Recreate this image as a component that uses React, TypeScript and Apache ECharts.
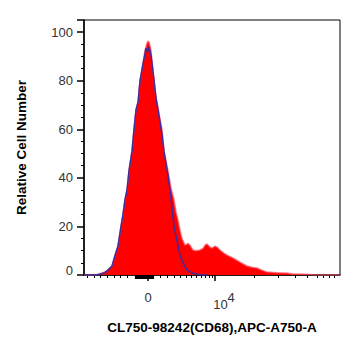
import React, { useEffect, useRef } from "react";
import * as echarts from "echarts";

// Display channel (logicle-scaled x, 0..256) and relative cell counts
const sampleChannel = [0, 10, 13, 17, 21, 25, 28, 31, 34, 37, 39, 41, 43, 45, 48, 49, 50, 52, 53, 54, 56, 59, 61, 63, 64, 65, 67, 69, 72, 74, 78, 80, 84, 87, 90, 92, 94, 96, 98, 101, 104, 106, 109, 112, 116, 119, 121, 123, 126, 128, 131, 133, 136, 140, 143, 149, 156, 163, 168, 173, 178, 183, 193, 203, 209, 216, 222, 229, 236, 256];
const sampleCount = [0, 0, 0.2, 0.7, 1.2, 2.5, 3.7, 8, 12, 20, 25, 31, 35, 43, 51, 55.5, 60, 68, 70, 71, 80, 87, 92.6, 95.5, 96.3, 96, 92.6, 84, 73, 69, 60, 51, 43, 36, 31, 26, 22.6, 18.5, 15, 12.3, 13, 12.3, 10.3, 10, 10.3, 11, 12.3, 12.8, 11.5, 11.1, 11.9, 11.5, 10.3, 9, 8.2, 7, 5.3, 3.7, 3.2, 2.9, 2, 1.2, 0.9, 0.8, 0.4, 0.4, 0.3, 0.1, 0, 0];

const controlChannel = [0, 12, 16, 20, 24, 28, 31, 34, 37, 39, 41, 43, 45, 48, 50, 52, 54, 56, 59, 61, 62, 63.5, 65, 67, 69, 72, 74, 78, 80, 84, 86, 88, 90, 93, 96, 99, 103, 109, 116, 124];
const controlCount = [0, 0, 0.3, 0.8, 2, 3.7, 8, 12, 20, 25, 31, 35, 43, 51, 60, 68, 71, 80, 87, 91, 93.4, 91.8, 93.8, 90.5, 84, 73, 68, 58, 51, 41, 35, 28, 20, 14, 8, 5, 2, 0.7, 0.1, 0];

// Axis tick positions (display channels)
const minorTicks = [3, 10, 16.5, 23, 30, 36.5, 43, 76, 83, 90, 96.5, 102, 107, 112, 117, 121, 125, 128, 170, 194, 211, 223, 233, 239, 245, 250];
const zeroClusterTicks = [51, 52, 53, 54, 55, 56, 57, 58, 59, 60, 61, 62, 63, 64, 65, 66, 67, 68, 69];
const majorTicks = [64, 131];
const majorLabels = ["0", "{p|}{b|10}{s|4}"];

const yMax = 105;

export default function App() {
  const ref = useRef<HTMLDivElement>(null);
  useEffect(() => {
    const chart = echarts.init(ref.current!, null, { renderer: "svg" });
    const font = "'Liberation Sans', Arial, sans-serif";
    const baseX = {
      type: "value",
      min: 0,
      max: 256,
      gridIndex: 0,
      position: "bottom",
      splitLine: { show: false },
    };
    chart.setOption({
      animation: false,
      backgroundColor: "#fff",
      grid: {
        left: 84,
        right: 21,
        top: 20,
        bottom: 81,
        show: true,
        borderColor: "#000",
        borderWidth: 1,
        backgroundColor: "transparent",
      },
      xAxis: [
        {
          ...baseX,
          axisLine: { show: true, lineStyle: { color: "#000", width: 1.5 } },
          axisTick: { show: true, customValues: minorTicks, length: 3, lineStyle: { color: "#000", width: 1 } },
          axisLabel: { show: false },
          name: "CL750-98242(CD68),APC-A750-A",
          nameLocation: "middle",
          nameGap: 45,
          nameTextStyle: { fontFamily: font, fontWeight: "bold", fontSize: 13.5, color: "#000", verticalAlign: "top" },
        },
        {
          ...baseX,
          axisLine: { show: false },
          axisTick: { show: true, customValues: zeroClusterTicks, length: 4, lineStyle: { color: "#000", width: 1.2 } },
          axisLabel: { show: false },
        },
        {
          ...baseX,
          axisLine: { show: false },
          axisTick: { show: true, customValues: majorTicks, length: 6, lineStyle: { color: "#000", width: 1.5 } },
          axisLabel: {
            show: true,
            customValues: majorTicks,
            margin: 16,
            fontFamily: font,
            fontSize: 13,
            color: "#333",
            formatter: (v: number) => majorLabels[majorTicks.indexOf(v)] ?? "",
            rich: {
              p: { width: 18, fontSize: 13 },
              b: { fontSize: 13, fontFamily: font, color: "#333" },
              s: { fontSize: 13, fontFamily: font, color: "#333", padding: [0, 0, 14, 0] },
            },
          },
        },
      ],
      yAxis: {
        type: "value",
        min: 0,
        max: yMax,
        interval: 20,
        axisLine: { show: true, lineStyle: { color: "#000", width: 1.5 } },
        axisTick: { show: true, length: 7, lineStyle: { color: "#000", width: 1.5 } },
        minorTick: { show: true, splitNumber: 4, length: 3, lineStyle: { color: "#000", width: 1 } },
        splitLine: { show: false },
        axisLabel: {
          margin: 11,
          fontFamily: font,
          fontSize: 13,
          color: "#333",
          formatter: (v: number) => (v === 0 ? "{z|0}" : String(v)),
          rich: { z: { fontSize: 13, fontFamily: font, color: "#333", padding: [0, 0, 9, 0] } },
        },
        name: "Relative Cell Number",
        nameLocation: "middle",
        nameGap: 56,
        nameRotate: 90,
        nameTextStyle: { fontFamily: font, fontWeight: "bold", fontSize: 13.5, color: "#000" },
      },
      series: [
        {
          type: "line",
          xAxisIndex: 0,
          data: sampleChannel.map((c, i) => [c, sampleCount[i]]),
          showSymbol: false,
          smooth: false,
          lineStyle: { color: "rgba(255,90,110,0.7)", width: 1.5 },
          areaStyle: { color: "#ff0000", opacity: 1 },
          z: 2,
        },
        {
          type: "line",
          xAxisIndex: 0,
          data: controlChannel.map((c, i) => [c, controlCount[i]]),
          showSymbol: false,
          smooth: false,
          lineStyle: { color: "#3d2c9e", width: 1.5 },
          z: 3,
        },
      ],
    });
    return () => chart.dispose();
  }, []);
  return <div ref={ref} style={{ width: 361, height: 356, position: "absolute", left: 0, top: 0 }} />;
}
